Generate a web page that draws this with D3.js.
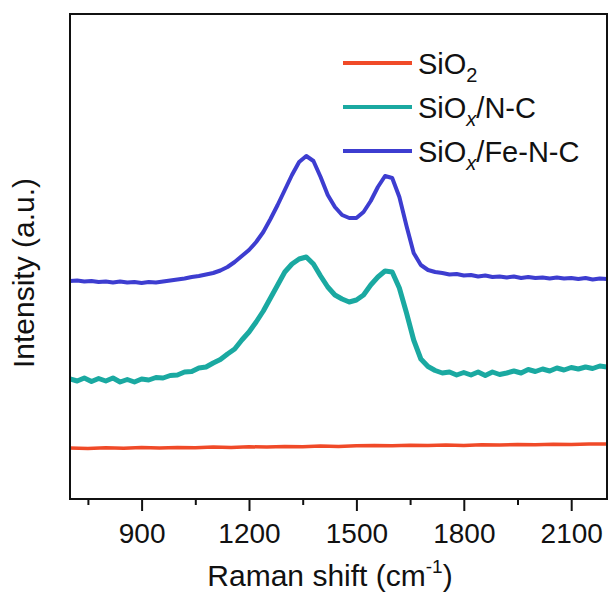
<!DOCTYPE html>
<html>
<head>
<meta charset="utf-8">
<script src="https://cdn.jsdelivr.net/npm/d3@7/dist/d3.min.js"></script>
<style>
  html, body { margin: 0; padding: 0; background: #fff; }
  svg { display: block; }
  text { font-family: "Liberation Sans", Arial, sans-serif; fill: #111; }
</style>
</head>
<body>
<svg id="chart" width="608" height="594"></svg>
<script>
// ---- data (Raman shift in cm^-1, intensity in arbitrary units) ----
const shifts = [700, 720, 740, 760, 780, 800, 820, 840, 860, 880, 900, 920, 940, 960, 980, 1000, 1020, 1040, 1060, 1080,
  1100, 1120, 1140, 1160, 1180, 1200, 1220, 1240, 1260, 1280, 1300, 1320, 1340, 1360, 1380, 1400, 1420, 1440, 1460, 1480,
  1500, 1520, 1540, 1560, 1580, 1600, 1620, 1640, 1660, 1680, 1700, 1720, 1740, 1760, 1780, 1800, 1820, 1840, 1860, 1880,
  1900, 1920, 1940, 1960, 1980, 2000, 2020, 2040, 2060, 2080, 2100, 2120, 2140, 2160, 2180, 2200];

const intensFeNC = [218, 218.5, 217.5, 218, 217, 217.5, 216.5, 217.5, 216.5, 217, 216, 217, 216.5, 217.5, 218.5, 219.5, 220.5, 222, 223, 224.5,
  226, 228.5, 232, 237, 243, 249, 257, 267, 280, 294, 309, 324, 337, 343, 338, 322, 304, 292, 284, 281,
  281, 287, 298, 312, 323, 321, 302, 273, 246, 234, 229, 227, 226, 224.5, 225, 223.5, 224, 222.5, 223.5, 222,
  222.5, 221.5, 222.5, 221, 222, 221, 221.5, 220.5, 221.5, 220.5, 221, 220, 221, 219.5, 220.5, 220];

const intensNC = [120, 118, 121, 117.5, 120.5, 118, 121, 117, 119.5, 117, 120, 119, 121.5, 121, 123.5, 124, 127, 127.5, 131, 132,
  136, 139.5, 145, 150, 159, 167, 177, 188, 201, 214, 227, 235, 240, 242, 235, 223, 212, 204, 200, 197,
  199, 204, 214, 222, 228, 227, 211, 186, 159, 140, 132.5, 128.5, 126, 127, 124, 126.5, 124, 127, 123.5, 127,
  124.5, 126, 128, 126, 129.5, 127.5, 130, 128, 131, 129, 131.5, 130, 132, 130.5, 133, 132];

const shiftSiO2 = [700, 750, 800, 850, 900, 950, 1000, 1050, 1100, 1150, 1200, 1250, 1300, 1350, 1400, 1450,
  1500, 1550, 1600, 1650, 1700, 1750, 1800, 1850, 1900, 1950, 2000, 2050, 2100, 2150, 2200];
const intensSiO2 = [51, 50.5, 51.2, 50.8, 51.5, 51, 51.6, 51.2, 52, 51.5, 52.2, 52, 52.6, 52.2, 53, 52.6,
  53.2, 53.6, 53.2, 53.8, 53.4, 54, 53.6, 54.2, 54, 54.5, 54.2, 54.8, 54.5, 55, 55];

const majorTicks = [900, 1200, 1500, 1800, 2100];
const minorTicks = [750, 1050, 1350, 1650, 1950];

const seriesNames = ["SiO2", "SiOx/N-C", "SiOx/Fe-N-C"];
const seriesColors = ["#F04A28", "#1AA9A1", "#3D3DD0"];

// ---- layout ----
const svg = d3.select("#chart");
const L = 70, R = 607, T = 14, B = 499;

const x = d3.scaleLinear().domain([700, 2200]).range([L, R]);
const y = d3.scaleLinear().domain([0, 485]).range([B, T]);

const pair = (xs, ys) => xs.slice(0, Math.min(xs.length, ys.length)).map((s, i) => [s, ys[i]]);

const seriesData = [
  { name: seriesNames[0], color: seriesColors[0], width: 3.5, pts: pair(shiftSiO2, intensSiO2) },
  { name: seriesNames[1], color: seriesColors[1], width: 5, pts: pair(shifts, intensNC) },
  { name: seriesNames[2], color: seriesColors[2], width: 4, pts: pair(shifts, intensFeNC) }
];

const line = d3.line()
  .x(d => x(d[0]))
  .y(d => y(d[1]))
  .curve(d3.curveLinear);

const g = svg.append("g");
g.append("defs").append("clipPath").attr("id", "clip")
  .append("rect").attr("x", L).attr("y", T).attr("width", R - L).attr("height", B - T);

g.append("g").attr("clip-path", "url(#clip)")
  .selectAll("path").data(seriesData).join("path")
  .attr("d", d => line(d.pts))
  .attr("fill", "none")
  .attr("stroke", d => d.color)
  .attr("stroke-width", d => d.width)
  .attr("stroke-linejoin", "round");

// frame
g.append("rect").attr("x", L).attr("y", T).attr("width", R - L).attr("height", B - T)
  .attr("fill", "none").attr("stroke", "#111").attr("stroke-width", 2);

// axes
const xMajor = d3.axisBottom(x).tickValues(majorTicks).tickSize(12).tickSizeOuter(0).tickPadding(12).tickFormat(d3.format("d"));
const xMinor = d3.axisBottom(x).tickValues(minorTicks).tickSize(6).tickSizeOuter(0).tickFormat("");

const gMaj = g.append("g").attr("transform", `translate(0,${B})`).call(xMajor);
const gMin = g.append("g").attr("transform", `translate(0,${B})`).call(xMinor);
[gMaj, gMin].forEach(a => {
  a.select(".domain").remove();
  a.selectAll(".tick line").attr("stroke", "#111").attr("stroke-width", 2);
});
gMaj.selectAll(".tick text")
  .attr("font-size", 28)
  .attr("fill", "#111")
  .attr("font-family", "\"Liberation Sans\", Arial, sans-serif")
  .attr("dy", null)
  .attr("y", 44);

// x title
const xt = g.append("text").attr("x", 330).attr("y", 586).attr("text-anchor", "middle").attr("font-size", 30);
xt.append("tspan").text("Raman shift (cm");
xt.append("tspan").attr("font-size", 19).attr("dy", -13).text("-1");
xt.append("tspan").attr("dy", 13).text(")");

// y title
g.append("text")
  .attr("transform", "translate(34,273) rotate(-90)")
  .attr("text-anchor", "middle")
  .attr("font-size", 30)
  .text("Intensity (a.u.)");

// legend
const legY = [63, 107, 151];
const leg = g.append("g");
seriesData.forEach((s, i) => {
  leg.append("line").attr("x1", 343).attr("x2", 412).attr("y1", legY[i]).attr("y2", legY[i])
    .attr("stroke", s.color).attr("stroke-width", 4);
  const t = leg.append("text").attr("x", 418).attr("y", legY[i] + 11).attr("font-size", 29);
  if (i === 0) {
    t.append("tspan").text("SiO");
    t.append("tspan").attr("font-size", 20).attr("dy", 8).text("2");
  } else {
    t.append("tspan").text("SiO");
    t.append("tspan").attr("font-size", 20).attr("dy", 8).attr("font-style", "italic").text("x");
    t.append("tspan").attr("dy", -8).text(i === 1 ? "/N-C" : "/Fe-N-C");
  }
});
</script>
</body>
</html>
